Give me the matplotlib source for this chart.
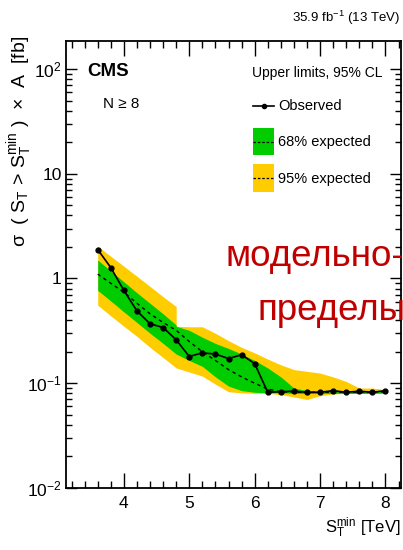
import matplotlib
matplotlib.use("Agg")
import matplotlib.pyplot as plt
from matplotlib.lines import Line2D
from matplotlib.patches import Rectangle
from matplotlib.ticker import FixedLocator, FixedFormatter, MultipleLocator, LogLocator, NullFormatter

# observed / expected limits vs S_T^min
st_min = [3.6, 3.8, 4.0, 4.2, 4.4, 4.6, 4.8, 5.0, 5.2, 5.4, 5.6, 5.8,
          6.0, 6.2, 6.4, 6.6, 6.8, 7.0, 7.2, 7.4, 7.6, 7.8, 8.0]
observed = [1.89, 1.27, 0.77, 0.49, 0.37, 0.34, 0.26, 0.18, 0.195, 0.19, 0.172, 0.187,
            0.154, 0.082, 0.083, 0.084, 0.082, 0.082, 0.085, 0.082, 0.084, 0.082, 0.085]
expected = [1.1, 0.9, 0.74, 0.58, 0.46, 0.38, 0.32, 0.25, 0.2, 0.165, 0.135, 0.115,
            0.1, 0.088, 0.083, 0.082, 0.082, 0.082, 0.082, 0.082, 0.082, 0.082, 0.083]

# bands (4.8 appears twice: the 95% band has a step there)
band_x = [3.6, 3.8, 4.0, 4.2, 4.4, 4.6, 4.8, 4.8, 5.0, 5.2, 5.4, 5.6, 5.8,
          6.0, 6.2, 6.4, 6.6, 6.8, 7.0, 7.2, 7.4, 7.6, 7.8, 8.0]
yellow_hi = [2.03, 1.63, 1.31, 1.05, 0.84, 0.67, 0.54, 0.35, 0.346, 0.346, 0.30, 0.255, 0.22,
             0.195, 0.17, 0.15, 0.135, 0.13, 0.125, 0.115, 0.104, 0.090, 0.090, 0.087]
green_hi = [1.5, 1.18, 0.93, 0.73, 0.58, 0.46, 0.36, 0.35, 0.32, 0.275, 0.24, 0.215, 0.19,
            0.165, 0.14, 0.115, 0.09, 0.085, 0.084, 0.085, 0.084, 0.084, 0.084, 0.085]
green_lo = [0.77, 0.61, 0.48, 0.38, 0.30, 0.24, 0.19, 0.19, 0.165, 0.145, 0.115, 0.094, 0.085,
            0.082, 0.081, 0.081, 0.080, 0.080, 0.080, 0.080, 0.080, 0.080, 0.080, 0.081]
yellow_lo = [0.556, 0.44, 0.35, 0.28, 0.22, 0.176, 0.14, 0.14, 0.128, 0.117, 0.098, 0.083, 0.081,
             0.080, 0.080, 0.078, 0.074, 0.070, 0.076, 0.079, 0.080, 0.080, 0.080, 0.080]

y_ticks = [0.01, 0.1, 1, 10, 100]
y_tick_labels = ["$10^{-2}$", "$10^{-1}$", "1", "10", "$10^{2}$"]
x_ticks = [4, 5, 6, 7, 8]

W, H = 403, 550
GREEN = "#00cc00"
YELLOW = "#ffcc00"

plt.rcParams["font.family"] = ["Liberation Sans", "DejaVu Sans"]
plt.rcParams["mathtext.fontset"] = "custom"
plt.rcParams["mathtext.rm"] = "Liberation Sans"
plt.rcParams["mathtext.it"] = "Liberation Sans"
plt.rcParams["mathtext.default"] = "regular"


def px(x, y):
    """pixel position -> figure fraction"""
    return x / W, 1 - y / H


fig = plt.figure(figsize=(W / 100, H / 100), dpi=100)
ax = fig.add_axes([66 / W, 1 - 488 / H, (400.5 - 66) / W, (488 - 41) / H])

ax.fill_between(band_x, yellow_lo, yellow_hi, color=YELLOW, lw=0)
ax.fill_between(band_x, green_lo, green_hi, color=GREEN, lw=0)
ax.plot(st_min, expected, color="black", lw=1.0, ls=(0, (2.5, 2.5)))
ax.plot(st_min, observed, color="black", lw=1.2, marker="o", ms=3.5)

ax.set_yscale("log")
ax.set_xlim(3.115, 8.23)
ax.set_ylim(0.01, 185)

ax.xaxis.set_major_locator(FixedLocator(x_ticks))
ax.xaxis.set_minor_locator(MultipleLocator(0.2))
ax.yaxis.set_major_locator(FixedLocator(y_ticks))
ax.yaxis.set_major_formatter(FixedFormatter(y_tick_labels))
ax.yaxis.set_minor_locator(LogLocator(base=10, subs=range(2, 10)))
ax.yaxis.set_minor_formatter(NullFormatter())

ax.tick_params(which="both", direction="in", top=True, right=True, labelsize=12.5, width=1.0)
ax.tick_params(axis="x", which="major", length=11, pad=6)
ax.tick_params(axis="x", which="minor", length=5)
ax.tick_params(axis="y", which="major", length=8, pad=3)
ax.tick_params(axis="y", which="minor", length=4.5)
for s in ax.spines.values():
    s.set_linewidth(1.3)

# axis titles
fig.text(*px(20, 36), r"σ  ( S$_T$ > S$_T^{min}$ )  ×  A  [fb]", rotation=90,
         ha="center", va="top", fontsize=14)
fig.text(*px(401, 528), r"S$_T^{min}$ [TeV]", ha="right", va="center", fontsize=12)
fig.text(*px(400, 18), r"35.9 fb$^{-1}$ (13 TeV)", ha="right", va="center", fontsize=9.5)

# labels inside the frame
fig.text(*px(87, 71), "CMS", ha="left", va="center", fontsize=13.5, fontweight="bold")
fig.text(*px(103, 104), "N ≥ 8", ha="left", va="center", fontsize=11)
fig.text(*px(252, 73), "Upper limits, 95% CL", ha="left", va="center", fontsize=10)

# legend
fig.add_artist(Line2D([253 / W, 274 / W], [1 - 106 / H] * 2, color="black", lw=1.2))
fig.add_artist(Line2D([263.5 / W], [1 - 106 / H], color="black", marker="o", ms=3))
fig.text(*px(278, 106), "Observed", ha="left", va="center", fontsize=10.5)
for y0, y1, col, txt in [(128, 155, GREEN, "68% expected"), (164, 192, YELLOW, "95% expected")]:
    fig.add_artist(Rectangle(px(253, y1), 21 / W, (y1 - y0) / H, color=col, lw=0))
    fig.add_artist(Line2D([253 / W, 274 / W], [1 - (y0 + y1) / 2 / H] * 2, color="black",
                          lw=0.9, ls=(0, (2, 1.5))))
    fig.text(*px(278, (y0 + y1) / 2 + 1), txt, ha="left", va="center", fontsize=10.5)

# red slide overlay text (runs off the right edge, as in the source slide)
fig.text(*px(225, 266), "модельно-", ha="left", va="baseline", fontsize=26.5,
         color="#c00000")
fig.text(*px(257, 320), "пределы", ha="left", va="baseline", fontsize=26.5,
         color="#c00000")

fig.savefig("out.png", dpi=100)
